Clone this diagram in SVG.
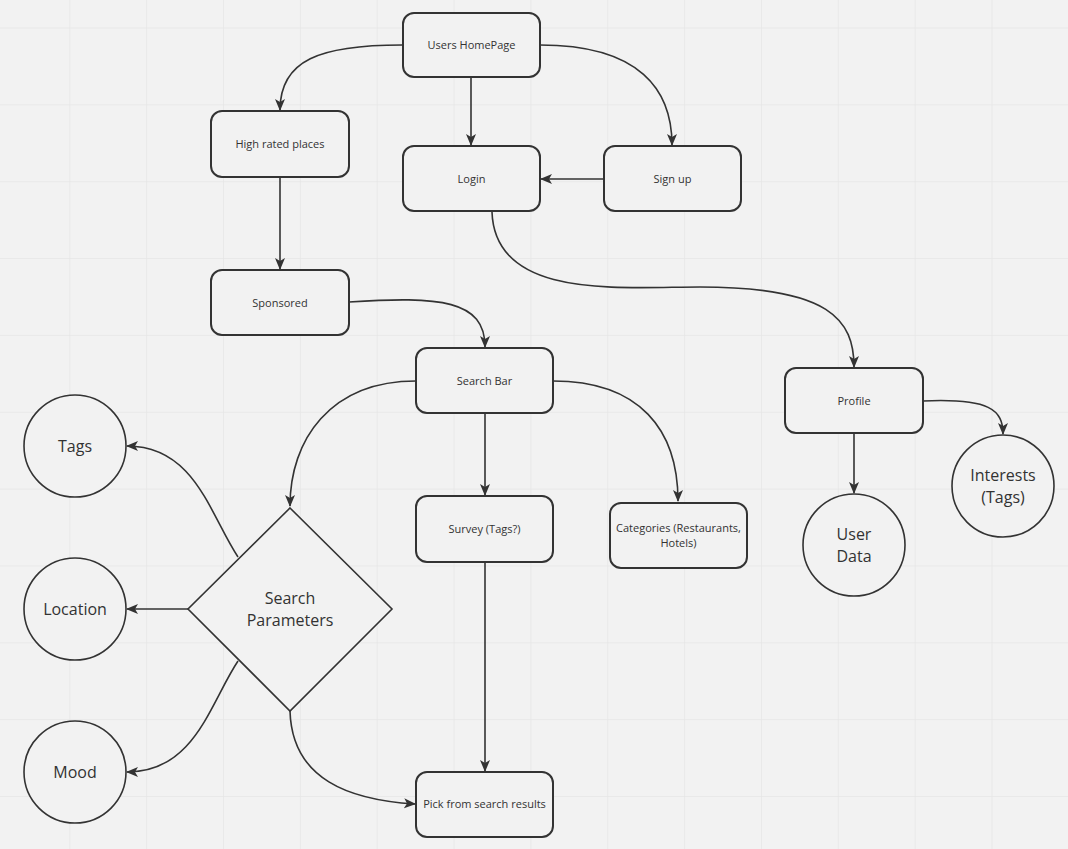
<svg xmlns="http://www.w3.org/2000/svg" width="1068" height="849" viewBox="0 0 1068 849">
<defs>
<pattern id="grid" x="69.3" y="27.5" width="76.85" height="76.85" patternUnits="userSpaceOnUse">
<path d="M0,0 V76.85 M0,0 H76.85" fill="none" stroke="#e6e6e6" stroke-width="1.5"/>
</pattern>
<marker id="arr" viewBox="0 0 12 12" refX="11" refY="6" markerWidth="12" markerHeight="12" markerUnits="userSpaceOnUse" orient="auto">
<path d="M0,1 L12,6 L0,11 L3,6 z" fill="#333"/>
</marker>
<style>
.box{fill:#f2f2f2;stroke:#333;stroke-width:2}
.circ{fill:#f2f2f2;stroke:#333;stroke-width:1.6}
.dia{fill:#f2f2f2;stroke:#333;stroke-width:1.6}
.lbl{font-family:"Open Sans","Liberation Sans",sans-serif;font-size:11px;fill:#333;text-anchor:middle}
.big{font-family:"Open Sans","Liberation Sans",sans-serif;font-size:16px;fill:#333;text-anchor:middle}
.con{fill:none;stroke:#333;stroke-width:1.6;marker-end:url(#arr)}
</style>
</defs>
<rect width="1068" height="849" fill="#f2f2f2"/>
<rect width="1068" height="849" fill="url(#grid)"/>
<g id="connectors">
<path class="con" d="M402,45 C320,45 280,60 280,110"/>
<path class="con" d="M471,77 L471,145"/>
<path class="con" d="M540,45 C640,45 672,90 672,145"/>
<path class="con" d="M603,179 L541,179"/>
<path class="con" d="M280,177 L280,269"/>
<path class="con" d="M349,302 C440,296 485,300 485,347"/>
<path class="con" d="M492,212 C495,300 620,287 700,287 C830,287 854,320 854,367"/>
<path class="con" d="M416,381 C330,381 290,440 290,506"/>
<path class="con" d="M485,413 L485,495"/>
<path class="con" d="M553,381 C640,381 678,430 678,501"/>
<path class="con" d="M485,562 L485,771"/>
<path class="con" d="M238,557 C210,515 195,446 127,446"/>
<path class="con" d="M188,609 L127,609"/>
<path class="con" d="M238,661 C210,703 195,772 127,772"/>
<path class="con" d="M290,711 C292,780 350,800 415,804"/>
<path class="con" d="M854,434 L854,493"/>
<path class="con" d="M923,401 C990,398 1003,410 1003,434"/>
</g>
<g id="users-homepage"><rect class="box" x="403" y="13" width="137" height="64" rx="11"/><text class="lbl" x="471.5" y="49">Users HomePage</text></g>
<g id="login"><rect class="box" x="403" y="146" width="137" height="65" rx="11"/><text class="lbl" x="471.5" y="183">Login</text></g>
<g id="sign-up"><rect class="box" x="604" y="146" width="137" height="65" rx="11"/><text class="lbl" x="672.5" y="183">Sign up</text></g>
<g id="high-rated"><rect class="box" x="211" y="111" width="138" height="66" rx="11"/><text class="lbl" x="280" y="148">High rated places</text></g>
<g id="sponsored"><rect class="box" x="211" y="270" width="138" height="65" rx="11"/><text class="lbl" x="280" y="307">Sponsored</text></g>
<g id="search-bar"><rect class="box" x="416" y="348" width="137" height="65" rx="11"/><text class="lbl" x="484.5" y="385">Search Bar</text></g>
<g id="survey"><rect class="box" x="416" y="496" width="137" height="66" rx="11"/><text class="lbl" x="484.5" y="533">Survey (Tags?)</text></g>
<g id="categories"><rect class="box" x="610" y="503" width="137" height="65" rx="11"/><text class="lbl" x="678.5" y="532">Categories (Restaurants,</text><text class="lbl" x="678.5" y="547">Hotels)</text></g>
<g id="pick"><rect class="box" x="416" y="772" width="137" height="65" rx="11"/><text class="lbl" x="484.5" y="808">Pick from search results</text></g>
<g id="profile"><rect class="box" x="785" y="368" width="138" height="65" rx="11"/><text class="lbl" x="854" y="405">Profile</text></g>
<g id="user-data"><circle class="circ" cx="854" cy="545" r="51"/><text class="big" x="854" y="540">User</text><text class="big" x="854" y="562">Data</text></g>
<g id="interests"><circle class="circ" cx="1003" cy="486" r="51"/><text class="big" x="1003" y="481">Interests</text><text class="big" x="1003" y="503">(Tags)</text></g>
<g id="tags"><circle class="circ" cx="75" cy="446" r="51"/><text class="big" x="75" y="452">Tags</text></g>
<g id="location"><circle class="circ" cx="75" cy="609" r="51"/><text class="big" x="75" y="615">Location</text></g>
<g id="mood"><circle class="circ" cx="75" cy="772" r="51"/><text class="big" x="75" y="778">Mood</text></g>
<g id="search-parameters"><path class="dia" d="M290,508 L392,609 L290,711 L188,609 Z"/><text class="big" x="290" y="604">Search</text><text class="big" x="290" y="626">Parameters</text></g>
</svg>
